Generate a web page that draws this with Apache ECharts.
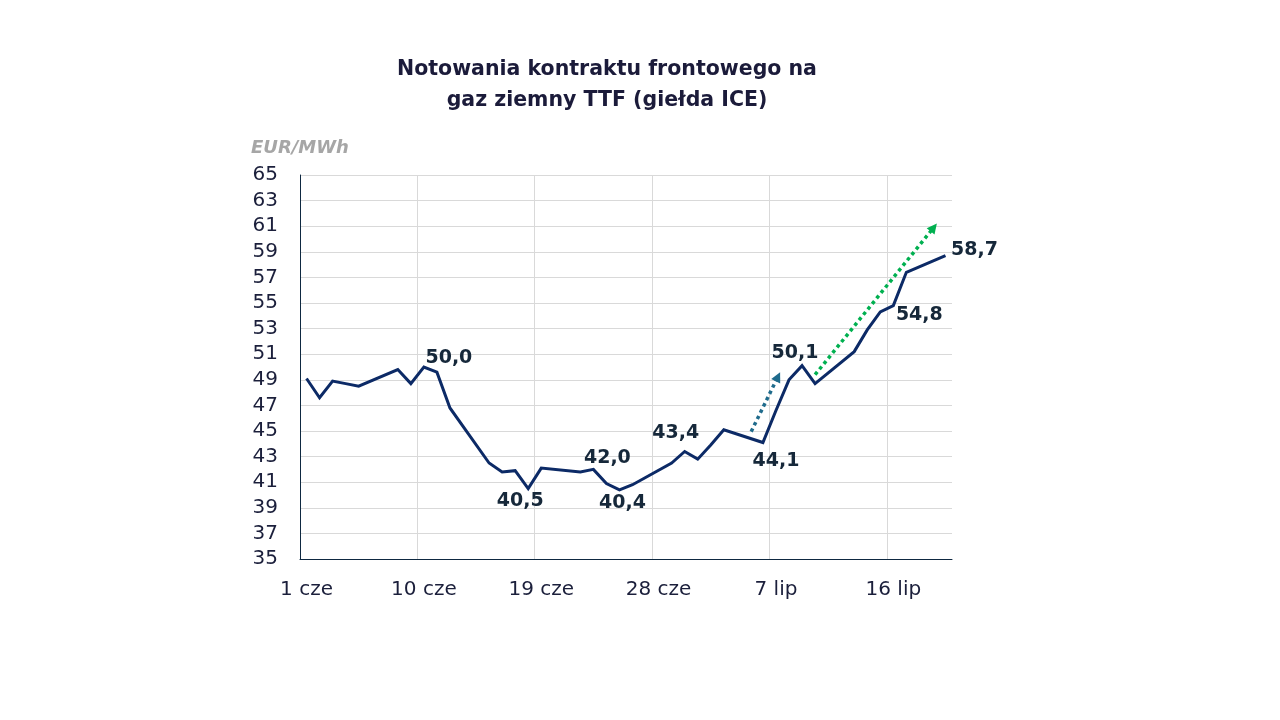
<!DOCTYPE html>
<html>
<head>
<meta charset="utf-8">
<script src="https://cdn.jsdelivr.net/npm/echarts@6/dist/echarts.min.js"></script>
<style>
  html, body { margin: 0; padding: 0; background: #fff; }
  #chart { width: 1280px; height: 720px; }
</style>
</head>
<body>
<div id="chart"></div>
<script>
// day slots on the x axis: 1 cze .. 20 lip
const juneDays = 30;
const slotCount = 50;
const categories = [];
for (let i = 0; i < slotCount; i++) {
    categories.push(i < juneDays ? (i + 1) + ' cze' : (i - juneDays + 1) + ' lip');
}

// trading days (index from 1 cze) and front-month TTF price, EUR/MWh
const tradingDays = [0, 1, 2, 3, 4, 7, 8, 9, 10, 11, 14, 15, 16, 17, 18, 21, 22, 23, 24, 25,
    28, 29, 30, 31, 32, 35, 36, 37, 38, 39, 42, 43, 44, 45, 46, 49];
const prices = [49.1, 47.6, 48.9, 48.7, 48.5, 49.8, 48.7, 50.0, 49.6, 46.8,
    42.5, 41.8, 41.9, 40.5, 42.1, 41.8, 42.0, 40.9, 40.4, 40.8,
    42.5, 43.4, 42.8, 43.9, 45.1, 44.1, 46.6, 49.0, 50.1, 48.7,
    51.2, 52.9, 54.3, 54.8, 57.4, 58.7];

// days that carry a value label
const labelledDays = [9, 17, 22, 24, 29, 35, 38, 45, 49];

// trend arrows, [day, price] start and end
const blueArrow = [[34.1, 44.95], [36.15, 49.24]];
const greenArrow = [[39.0, 49.4], [48.1, 60.9]];

// label offsets from the point, px
const labelOffsets = {
    9: [25, -9], 17: [-8, 12], 22: [14, -11], 24: [3, 13], 29: [-9, -18],
    35: [13, 19], 38: [-7, -13], 45: [26, 10], 49: [29, -6]
};

const fontName = '"DejaVu Sans", sans-serif';
const fmt = v => v.toFixed(1).replace('.', ',');

const chart = echarts.init(document.getElementById('chart'), null, { renderer: 'canvas' });

const lineData = tradingDays.map((d, i) => [d, prices[i]]);
const labelData = labelledDays.map(function (d) {
    return {
        value: [d, prices[tradingDays.indexOf(d)]],
        label: { offset: labelOffsets[d] }
    };
});

function arrowLine(pts, color) {
    return {
        type: 'line',
        xAxisIndex: 1,
        data: [],
        silent: true,
        markLine: {
            silent: true,
            animation: false,
            symbol: ['none', 'triangle'],
            symbolSize: 10,
            label: { show: false },
            itemStyle: { color: color },
            lineStyle: { color: color, width: 3.5, type: [3.5, 3.5] },
            emphasis: { disabled: true },
            data: [[{ coord: pts[0] }, { coord: pts[1] }]]
        }
    };
}

const option = {
    animation: false,
    grid: { left: 300, right: 328, top: 175, bottom: 161 },
    graphic: [
        {
            type: 'text', x: 607, y: 70,
            style: {
                text: 'Notowania kontraktu frontowego na',
                font: 'bold 20.5px ' + fontName, fill: '#1b1b3a',
                textAlign: 'center', textVerticalAlign: 'middle'
            }
        },
        {
            type: 'text', x: 607, y: 101,
            style: {
                text: 'gaz ziemny TTF (giełda ICE)',
                font: 'bold 20.5px ' + fontName, fill: '#1b1b3a',
                textAlign: 'center', textVerticalAlign: 'middle'
            }
        },
        {
            type: 'text', x: 251, y: 148,
            style: {
                text: 'EUR/MWh',
                font: 'italic bold 18px ' + fontName, fill: '#a6a6a6',
                textAlign: 'left', textVerticalAlign: 'middle'
            }
        }
    ],
    xAxis: [
        {
            type: 'category',
            data: categories,
            boundaryGap: true,
            axisLine: { onZero: false, lineStyle: { color: '#0e2841', width: 1 } },
            axisTick: { show: false, interval: 8 },
            axisLabel: {
                interval: 8, margin: 21,
                fontFamily: fontName, fontSize: 20, color: '#1b1f3b'
            },
            splitLine: {
                show: true, interval: 8, showMaxLine: false,
                lineStyle: { color: '#d9d9d9', width: 1 }
            }
        },
        {
            type: 'value', min: -0.5, max: 49.5, show: false
        }
    ],
    yAxis: {
        type: 'value',
        min: 35, max: 65, interval: 2,
        axisLine: { show: true, onZero: false, lineStyle: { color: '#0e2841', width: 1 } },
        axisTick: { show: false },
        axisLabel: { margin: 22, fontFamily: fontName, fontSize: 20, color: '#1b1f3b' },
        splitLine: { lineStyle: { color: '#d9d9d9', width: 1 } }
    },
    series: [
        arrowLine(blueArrow, '#1f6b8c'),
        arrowLine(greenArrow, '#00b050'),
        {
            name: 'TTF',
            type: 'line',
            data: lineData,
            showSymbol: false,
            lineStyle: { color: '#0c2a66', width: 3, join: 'miter' },
            itemStyle: { color: '#0c2a66' },
            z: 5
        },
        {
            type: 'scatter',
            data: labelData,
            symbolSize: 1,
            itemStyle: { color: 'rgba(0,0,0,0)' },
            silent: true,
            z: 6,
            label: {
                show: true,
                position: 'inside',
                align: 'center',
                verticalAlign: 'middle',
                fontFamily: fontName,
                fontSize: 19,
                fontWeight: 'bold',
                color: '#16283a',
                textBorderWidth: 0,
                opacity: 1,
                formatter: p => fmt(p.value[1])
            }
        }
    ]
};

chart.setOption(option);
</script>
</body>
</html>
